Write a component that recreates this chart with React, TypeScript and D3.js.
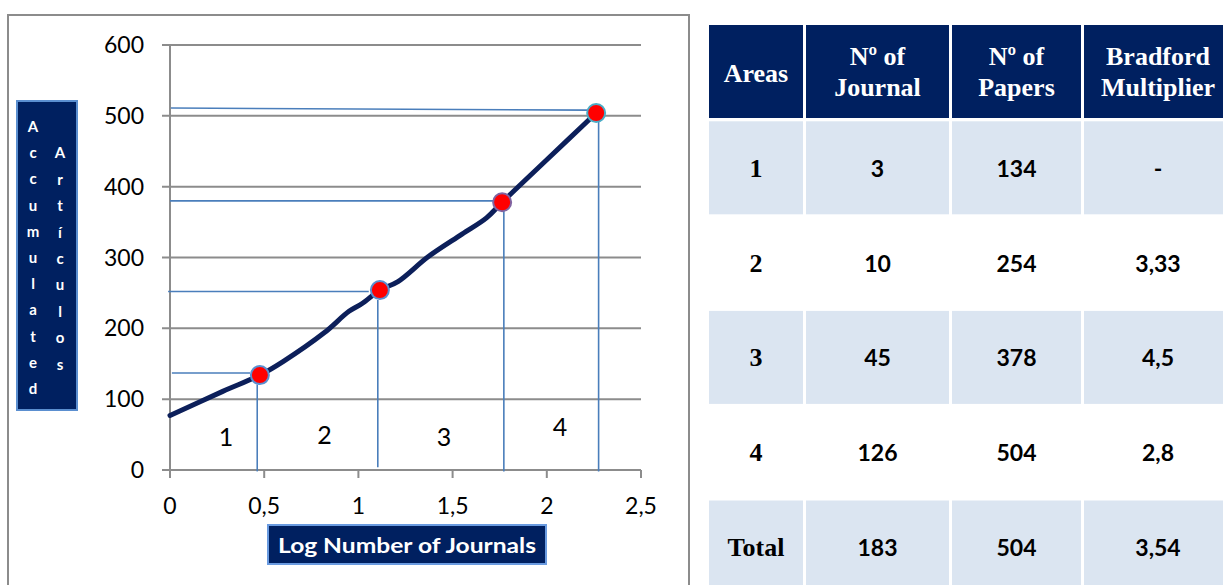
import * as d3 from 'd3';

// cumulative curve (log10 of accumulated journals vs accumulated papers)
const curveX = [0, 0.28, 0.478, 0.6, 0.82, 0.95, 1.02, 1.114, 1.21, 1.37, 1.55, 1.68, 1.763, 2.0, 2.262];
const curveY = [77, 111, 134, 153, 194, 224, 235, 254, 266, 301, 333, 356, 378, 438, 504];

// Bradford zone boundaries
const pointX = [0.477, 1.114, 1.763, 2.262];
const pointY = [134, 254, 378, 504];
const pointStroke = ['#5b8fd0', '#5b8fd0', '#8064a2', '#4bacc6'];

// annotation guide lines (hand drawn in the original)
const hLineY = [137, 252, 380, 511];
const hLineYEnd = [137, 252, 380, 508];
const hLineX0 = [0.01, -0.01, 0, 0.005];
const hLineX1 = [0.425, 1.055, 1.715, 2.215];
const vLineX = [0.463, 1.103, 1.772, 2.275];
const vLineTop = [120, 240, 368, 495];
const vLineBottom = [-2, 4, -2, -2];

const zoneLabels = ['1', '2', '3', '4'];
const zoneLabelX = [0.297, 0.82, 1.455, 2.07];
const zoneLabelY = [34, 37, 34, 48];

const yTicks = [0, 100, 200, 300, 400, 500, 600];
const xTicks = [0, 0.5, 1, 1.5, 2, 2.5];

const yLabelCol1 = 'Accumulated'.split('');
const yLabelCol2 = 'Artículos'.split('');

// table
const headers = [['Areas'], ['Nº of', 'Journal'], ['Nº of', 'Papers'], ['Bradford', 'Multiplier']];
const areas = ['1', '2', '3', '4', 'Total'];
const journals = ['3', '10', '45', '126', '183'];
const papers = ['134', '254', '378', '504', '504'];
const multipliers = ['-', '3,33', '4,5', '2,8', '3,54'];

const NAVY = '#002060';
const LIGHT = '#dbe5f1';
const SANS = 'Lato, "Open Sans", sans-serif';
const SERIF = '"Liberation Serif", "Times New Roman", serif';

export default function App() {
  const x = d3.scaleLinear().domain([0, 2.5]).range([170, 641]);
  const y = d3.scaleLinear().domain([0, 600]).range([470, 45]);

  const curvePts = curveX.map((v, i) => [v, curveY[i]] as [number, number]);
  const line = d3
    .line<[number, number]>()
    .x((d) => x(d[0]))
    .y((d) => y(d[1]))
    .curve(d3.curveCatmullRom.alpha(0.5));

  const fmt = (v: number) => String(v).replace('.', ',');

  // table layout
  const colLeft = [709, 806, 952, 1084];
  const colRight = [803, 949, 1081, 1232];
  const rowTop = d3.range(6).map((i) => 25 + i * 94.8);
  const rows = areas.map((a, i) => [a, journals[i], papers[i], multipliers[i]]);

  return (
    <div style={{ position: 'absolute', left: 0, top: 0 }}>
      <svg width={1223} height={585} style={{ display: 'block' }}>
        <rect x={0} y={0} width={1223} height={585} fill="#fff" />
        {/* chart frame */}
        <rect x={8} y={15} width={681} height={600} fill="none" stroke="#8c8c8c" strokeWidth={2} />

        {/* gridlines */}
        {yTicks.map((t) => (
          <line key={'g' + t} x1={162} x2={x(2.5)} y1={y(t)} y2={y(t)} stroke="#8c8c8c" strokeWidth={2} />
        ))}
        <line x1={x(0)} x2={x(0)} y1={y(600)} y2={y(0) + 8} stroke="#8c8c8c" strokeWidth={2} />
        {xTicks.map((t) => (
          <line key={'xt' + t} x1={x(t)} x2={x(t)} y1={y(0)} y2={y(0) + 8} stroke="#8c8c8c" strokeWidth={2} />
        ))}

        {/* tick labels */}
        {yTicks.map((t) => (
          <text key={'yl' + t} x={144} y={y(t) + 8} textAnchor="end" fontFamily={SANS} fontSize={23} fill="#000">
            {t}
          </text>
        ))}
        {xTicks.map((t) => (
          <text key={'xl' + t} x={x(t)} y={514} textAnchor="middle" fontFamily={SANS} fontSize={23} fill="#000">
            {fmt(t)}
          </text>
        ))}

        {/* guide lines */}
        {hLineY.map((v, i) => (
          <line
            key={'h' + i}
            x1={x(hLineX0[i])}
            x2={x(hLineX1[i])}
            y1={y(v)}
            y2={y(hLineYEnd[i])}
            stroke="#4a7ebb"
            strokeWidth={1.6}
          />
        ))}
        {vLineX.map((v, i) => (
          <line
            key={'v' + i}
            x1={x(v)}
            x2={x(v)}
            y1={y(vLineTop[i])}
            y2={y(vLineBottom[i])}
            stroke="#4a7ebb"
            strokeWidth={1.6}
          />
        ))}

        {/* zone labels */}
        {zoneLabels.map((l, i) => (
          <text key={'z' + i} x={x(zoneLabelX[i])} y={y(zoneLabelY[i])} textAnchor="middle" fontFamily={SANS} fontSize={25} fill="#000">
            {l}
          </text>
        ))}

        {/* curve */}
        <path d={line(curvePts) ?? ''} fill="none" stroke="#0c1f5a" strokeWidth={5} strokeLinecap="round" />

        {/* points */}
        {pointX.map((v, i) => (
          <circle key={'p' + i} cx={x(v)} cy={y(pointY[i])} r={9} fill="#ff0000" stroke={pointStroke[i]} strokeWidth={2} />
        ))}

        {/* y axis title box */}
        <rect x={17} y={101} width={60} height={309} fill={NAVY} stroke="#5b8fd0" strokeWidth={2} />
        {yLabelCol1.map((c, i) => (
          <text key={'c1' + i} x={33} y={132 + i * 26.2} textAnchor="middle" fontFamily={SANS} fontWeight="bold" fontSize={15} fill="#fff">
            {c}
          </text>
        ))}
        {yLabelCol2.map((c, i) => (
          <text key={'c2' + i} x={60} y={132 + (i + 1) * 26.4} textAnchor="middle" fontFamily={SANS} fontWeight="bold" fontSize={15} fill="#fff">
            {c}
          </text>
        ))}

        {/* x axis title box */}
        <rect x={268} y={525} width={278} height={39} fill={NAVY} stroke="#6a9be0" strokeWidth={2} />
        <text x={407} y={553} textAnchor="middle" fontFamily={SANS} fontWeight="bold" fontSize={21} fill="#fff" textLength={258} lengthAdjust="spacingAndGlyphs">
          Log Number of Journals
        </text>

        {/* table header */}
        {headers.map((h, j) => {
          const cx = (colLeft[j] + colRight[j]) / 2;
          return (
            <g key={'hd' + j}>
              <rect x={colLeft[j]} y={rowTop[0]} width={colRight[j] - colLeft[j]} height={93} fill={NAVY} />
              {h.length === 1 ? (
                <text x={cx} y={82} textAnchor="middle" fontFamily={SERIF} fontWeight="bold" fontSize={26} fill="#fff">
                  {h[0]}
                </text>
              ) : (
                h.map((s, k) => (
                  <text key={k} x={cx} y={65 + k * 31} textAnchor="middle" fontFamily={SERIF} fontWeight="bold" fontSize={26} fill="#fff">
                    {s}
                  </text>
                ))
              )}
            </g>
          );
        })}

        {/* table body */}
        {rows.map((r, i) => {
          const top = rowTop[i + 1];
          const shaded = i % 2 === 0;
          const baseline = top + 57;
          return (
            <g key={'r' + i}>
              {r.map((v, j) => {
                const cx = (colLeft[j] + colRight[j]) / 2;
                return (
                  <g key={j}>
                    {shaded && (
                      <rect x={colLeft[j]} y={top + 1.5} width={colRight[j] - colLeft[j]} height={93} fill={LIGHT} />
                    )}
                    <text
                      x={cx}
                      y={baseline}
                      textAnchor="middle"
                      fontFamily={j === 0 ? SERIF : SANS}
                      fontWeight="bold"
                      fontSize={j === 0 ? 26 : 23}
                      fill="#000"
                    >
                      {v}
                    </text>
                  </g>
                );
              })}
            </g>
          );
        })}
      </svg>
    </div>
  );
}
